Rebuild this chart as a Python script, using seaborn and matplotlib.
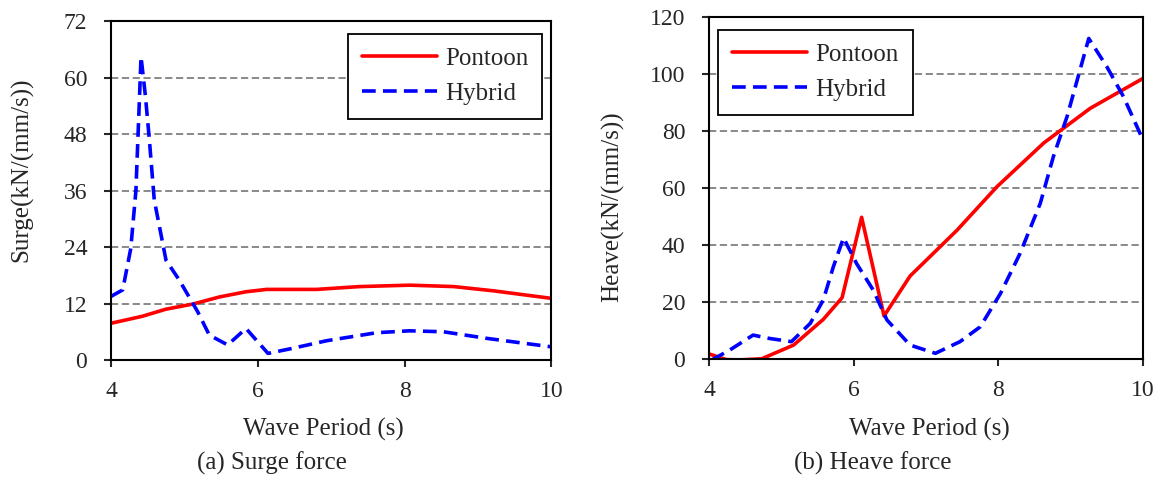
import numpy as np
import pandas as pd
import matplotlib
matplotlib.use("Agg")
import matplotlib.pyplot as plt
import seaborn as sns

# surge force (kN/(mm/s))
surge_pontoon_t = [4.0, 4.43, 4.75, 5.12, 5.48, 5.84, 6.12, 6.8, 7.39, 8.07, 8.67, 9.21, 10.0]
surge_pontoon_v = [7.8, 9.3, 10.8, 11.9, 13.4, 14.5, 15.0, 15.0, 15.6, 15.9, 15.6, 14.7, 13.1]

surge_hybrid_t = [4.0, 4.16, 4.27, 4.34, 4.41, 4.47, 4.52, 4.59, 4.75, 4.93, 5.18, 5.34,
                  5.59, 5.84, 6.14, 6.48, 6.94, 7.62, 8.07, 8.53, 9.12, 10.0]
surge_hybrid_v = [13.5, 14.9, 23.7, 36.0, 64.4, 56.0, 47.4, 34.0, 21.2, 17.0, 10.3, 5.3,
                  3.2, 6.7, 1.4, 2.5, 4.1, 5.8, 6.2, 6.0, 4.6, 2.8]

# heave force (kN/(mm/s))
heave_pontoon_t = [4.0, 4.24, 4.43, 4.73, 5.17, 5.58, 5.84, 6.11, 6.42, 6.78, 7.43, 7.98, 8.63, 9.27, 10.0]
heave_pontoon_v = [1.8, -0.2, -0.3, 0.1, 4.9, 13.9, 21.5, 49.7, 15.1, 29.1, 45.2, 60.4, 75.8, 87.9, 98.4]

heave_hybrid_t = [4.04, 4.29, 4.61, 4.84, 5.14, 5.40, 5.58, 5.72, 5.86, 6.04, 6.27, 6.46,
                  6.78, 7.13, 7.47, 7.75, 8.03, 8.30, 8.58, 8.76, 8.95, 9.25, 9.50, 9.73, 10.0]
heave_hybrid_v = [-0.3, 3.2, 8.4, 7.2, 6.1, 12.5, 20.7, 32.4, 42.5, 33.5, 24.2, 13.7,
                  4.9, 2.0, 6.1, 11.3, 23.0, 37.0, 54.6, 70.9, 85.0, 112.4, 102.5, 92.0, 76.8]

x_ticks = [4, 6, 8, 10]
surge_ticks = [0, 12, 24, 36, 48, 60, 72]
heave_ticks = [0, 20, 40, 60, 80, 100, 120]

sns.set_style("ticks")
plt.rcParams['font.family'] = ['Liberation Serif', 'DejaVu Serif']

fig = plt.figure(figsize=(11.68, 4.8), dpi=100)
ax1 = fig.add_axes([0.095, 0.25, 0.377, 0.706])
ax2 = fig.add_axes([0.607, 0.252, 0.3716, 0.713])


def draw(ax, pt, pv, ht, hv, yticks, ylabel, caption, ylab_xy, xlab_x, cap_x, leg_loc, leg_anchor):
    for t in yticks[1:-1]:
        ax.axhline(t, color='#808080', lw=1.3, ls=(0, (4, 2)), zorder=0)
    sns.lineplot(x=pt, y=pv, ax=ax, color='#ff0000', lw=2.6, label='Pontoon', sort=False)
    sns.lineplot(x=ht, y=hv, ax=ax, color='#0000ff', lw=2.6, label='Hybrid', sort=False,
                 linestyle=(0, (3.8, 2)))
    ax.set_xlim(4, 10)
    ax.set_ylim(yticks[0], yticks[-1])
    ax.set_xticks(x_ticks)
    ax.set_yticks(yticks)
    ax.tick_params(labelsize=17, width=1.5, length=5, direction='out')
    ax.tick_params(axis='x', pad=10)
    ax.tick_params(axis='y', pad=12)
    for s in ax.spines.values():
        s.set_linewidth(1.5)
        s.set_color('black')
    ax.set_xlabel('Wave Period (s)', fontsize=18)
    ax.xaxis.set_label_coords(xlab_x, -0.206)
    ax.xaxis.label.set_va('center')
    ax.set_ylabel(ylabel, fontsize=18)
    ax.yaxis.set_label_coords(*ylab_xy)
    ax.yaxis.label.set_va('center')
    ax.text(cap_x, -0.304, caption, transform=ax.transAxes, ha='center', va='center', fontsize=18)
    leg = ax.legend(loc=leg_loc, bbox_to_anchor=leg_anchor, borderaxespad=0, fontsize=18,
                    frameon=True, fancybox=False, edgecolor='black', handlelength=3.0,
                    handletextpad=0.35, borderpad=0.55, labelspacing=0.5)
    leg.get_frame().set_linewidth(1.3)
    leg.get_frame().set_alpha(1)


draw(ax1, surge_pontoon_t, surge_pontoon_v, surge_hybrid_t, surge_hybrid_v,
     surge_ticks, 'Surge(kN/(mm/s))', '(a) Surge force', (-0.202, 0.56), 0.482, 0.366,
     'upper right', (0.98, 0.962))
draw(ax2, heave_pontoon_t, heave_pontoon_v, heave_hybrid_t, heave_hybrid_v,
     heave_ticks, 'Heave(kN/(mm/s))', '(b) Heave force', (-0.221, 0.444), 0.507, 0.378,
     'upper left', (0.021, 0.962))

fig.savefig('out.png', dpi=100)
